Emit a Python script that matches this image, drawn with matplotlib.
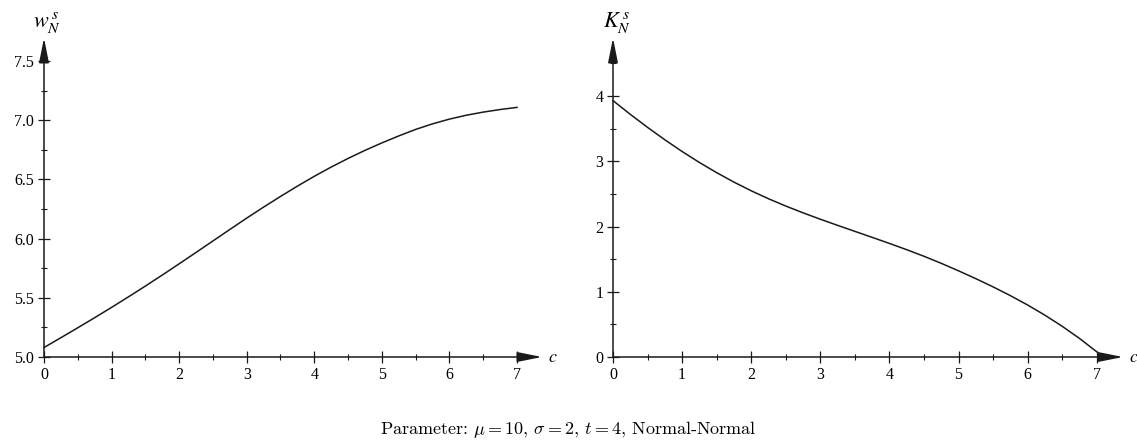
import numpy as np
import matplotlib
matplotlib.use("Agg")
import matplotlib.pyplot as plt
import matplotlib.transforms as mtransforms

# ---- data ----
c_vals = [0, 0.25, 0.5, 0.75, 1, 1.25, 1.5, 1.75, 2, 2.25, 2.5, 2.75, 3,
          3.25, 3.5, 3.75, 4, 4.25, 4.5, 4.75, 5, 5.25, 5.5, 5.75, 6,
          6.25, 6.5, 6.75, 7]
w_vals = [5.080, 5.163, 5.247, 5.332, 5.419, 5.508, 5.599, 5.692, 5.787,
          5.883, 5.980, 6.077, 6.173, 6.266, 6.356, 6.443, 6.526, 6.604,
          6.677, 6.745, 6.808, 6.867, 6.922, 6.969, 7.009, 7.042, 7.068,
          7.090, 7.108]
k_vals = [3.930, 3.720, 3.520, 3.330, 3.150, 2.982, 2.826, 2.681, 2.548,
          2.426, 2.314, 2.210, 2.112, 2.018, 1.926, 1.834, 1.741, 1.645,
          1.544, 1.436, 1.321, 1.201, 1.075, 0.941, 0.797, 0.641, 0.471,
          0.285, 0.080]

left_yticks = [5.0, 5.5, 6.0, 6.5, 7.0, 7.5]
left_yticklabels = ["5.0", "5.5", "6.0", "6.5", "7.0", "7.5"]
left_yminor = [5.25, 5.75, 6.25, 6.75, 7.25]
right_yticks = [0, 1, 2, 3, 4]
right_yticklabels = ["0", "1", "2", "3", "4"]
right_yminor = [0.5, 1.5, 2.5, 3.5, 4.5]
xticks = [0, 1, 2, 3, 4, 5, 6, 7]
xticklabels = ["0", "1", "2", "3", "4", "5", "6", "7"]
xminor = [0.5, 1.5, 2.5, 3.5, 4.5, 5.5, 6.5]
caption = r"Parameter: $\mu = 10$, $\sigma = 2$, $t = 4$, Normal-Normal"

plt.rcParams['font.family'] = ['Liberation Serif', 'DejaVu Serif']

W, H = 1137, 444
fig = plt.figure(figsize=(W / 100, H / 100), dpi=100)


def px_axes(x0, x1, ytop, ybot):
    return fig.add_axes([x0 / W, (H - ybot) / H, (x1 - x0) / W, (ybot - ytop) / H])


axL = px_axes(44, 542, 38, 357)
axR = px_axes(613, 1123, 38, 357)

INK = '#1a1a1a'


def style(ax, xlim, ylim, yticks, ylabels, yminor, ylab, ylab_dx):
    ax.set_xlim(*xlim)
    ax.set_ylim(*ylim)
    for s in ax.spines.values():
        s.set_visible(False)
    ax.set_xticks(xticks)
    ax.set_xticklabels(xticklabels)
    ax.set_xticks(xminor, minor=True)
    ax.set_yticks(yticks)
    ax.set_yticklabels(ylabels)
    ax.set_yticks(yminor, minor=True)
    ax.tick_params(which='major', direction='inout', length=8, width=0.9,
                   labelsize=11.5, pad=3, color=INK)
    ax.tick_params(which='minor', direction='inout', length=4.5, width=0.8,
                   color=INK)
    ap = dict(arrowstyle='-|>,head_length=1.5,head_width=0.3', color=INK,
              lw=1.1, shrinkA=0, shrinkB=0, mutation_scale=10)
    ax.annotate('', xy=(1, 0), xytext=(0, 0), xycoords='axes fraction',
                textcoords='axes fraction', arrowprops=ap, annotation_clip=False)
    ax.annotate('', xy=(0, 1), xytext=(0, 0), xycoords='axes fraction',
                textcoords='axes fraction', arrowprops=ap, annotation_clip=False)
    tr = ax.transAxes + mtransforms.ScaledTranslation(6 / 100, 0, fig.dpi_scale_trans)
    ax.text(1, 0, r'$c$', transform=tr, fontsize=13,
            math_fontfamily='stix', ha='left', va='center')
    ax.annotate(ylab, xy=(0, 1), xycoords='axes fraction', xytext=(ylab_dx, 2),
                textcoords='offset points', ha='center', va='bottom',
                fontsize=16, math_fontfamily='stix', annotation_clip=False)


style(axL, (0, 7.37), (5.0, 7.694), left_yticks, left_yticklabels,
      left_yminor, r'$w_N^{\,s}$', 2)
style(axR, (0, 7.38), (0, 4.89), right_yticks, right_yticklabels,
      right_yminor, r'$K_N^{\,s}$', 3)

axL.plot(c_vals, w_vals, color=INK, lw=1.1, clip_on=False)
axR.plot(c_vals, k_vals, color=INK, lw=1.1, clip_on=False)

fig.text(568 / W, (H - 429) / H, caption, ha='center', va='center',
         fontsize=13, family='cmr10', math_fontfamily='cm')

fig.savefig('out.png', dpi=100)
